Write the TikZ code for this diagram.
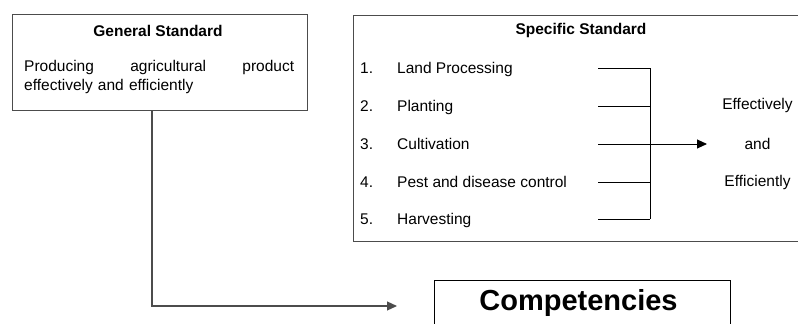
\documentclass[tikz,border=0pt]{standalone}
\usepackage{fontspec}
\setmainfont{Liberation Sans}
\usetikzlibrary{arrows.meta}
\tikzset{
  framebox/.style={draw=black!70, line width=1.2pt, fill=none, inner sep=0pt},
  txt/.style={inner sep=0pt, font=\fontsize{15.5}{19}\selectfont},
  ttl/.style={inner sep=0pt, font=\fontsize{15.5}{19}\selectfont\bfseries},
  link/.style={draw=black, line width=0.9pt},
  conn/.style={draw=black!70, line width=1.2pt, -{Triangle[length=10pt,width=9pt]}},
  arr/.style={draw=black, line width=0.9pt, -{Triangle[length=10pt,width=9pt]}},
}
\begin{document}
\begin{tikzpicture}[x=1pt,y=-1pt]
\useasboundingbox (0,0) rectangle (798,324);
\clip (0,0) rectangle (798,324);
% General standard
\node[framebox, minimum width=295, minimum height=96, anchor=north west] (gen) at (12,14) {};
\node[ttl] (gent) at (158,31) {General Standard};
\node[txt, text width=270pt, align=left, anchor=north west] (genb) at (24,60)
  {\hbox to 270pt{Producing\hfill agricultural\hfill product}\\effectively and efficiently};
% Specific standard
\node[framebox, minimum width=470, minimum height=226, anchor=north west] (spec) at (353,15) {};
\node[ttl] (spect) at (581,30) {Specific Standard};
\foreach \i/\t/\y in {1/Land Processing/68, 2/Planting/106, 3/Cultivation/144, 4/Pest and disease control/182, 5/Harvesting/219}{
  \node[txt, anchor=base west] (n\i) at (360,\y+5.5) {\i.};
  \node[txt, anchor=base west] (s\i) at (397,\y+5.5) {\t};
  \coordinate (l\i) at (598,\y);
  \coordinate (r\i) at (650,\y);
}
\foreach \i in {1,2,4,5}{ \draw[link] (l\i) -- (r\i); }
\draw[link] (r1) -- (r5);
\node[txt] (eff1) at (757.5,105) {Effectively};
\node[txt] (eff2) at (757.5,144) {and};
\node[txt] (eff3) at (757.5,182) {Efficiently};
\coordinate (tip) at (707,144);
\draw[arr] (l3) -- (tip);
% Competencies
\node[draw=black, line width=1.1pt, minimum width=296, minimum height=80, anchor=north west, inner sep=0pt] (comp) at (434,280) {};
\node[inner sep=0pt, font=\fontsize{29}{31}\selectfont\bfseries] (compt) at (578.5,303) {Competencies};
\coordinate (ctip) at (397,306);
\draw[conn] (gen.south -| 152,0) |- (ctip);
\end{tikzpicture}
\end{document}
